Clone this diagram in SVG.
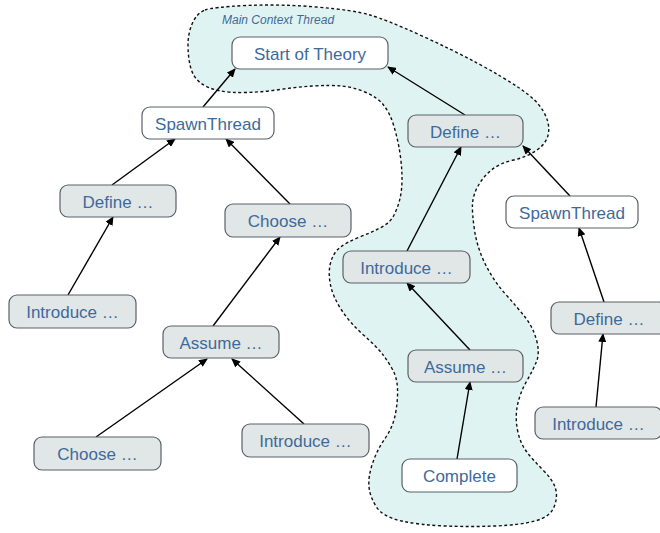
<svg xmlns="http://www.w3.org/2000/svg" width="660" height="533" viewBox="0 0 660 533">
<defs>
<style>
.blob{fill:#dff3f2;stroke:#111;stroke-width:1.4;stroke-dasharray:3 2.5}
.n rect{stroke:#5b6168;stroke-width:1.2}
.g rect{fill:#e1e6e7}
.w rect{fill:#ffffff}
.n text{font-family:"Liberation Sans",Arial,sans-serif;font-size:17px;fill:#3e6a9a;text-anchor:middle}
.lbl{font-family:"Liberation Sans",Arial,sans-serif;font-size:12px;font-style:italic;fill:#3e6a9a}
#edges line{stroke:#000;stroke-width:1.4;marker-end:url(#ah)}
</style>
<marker id="ah" markerWidth="9" markerHeight="8" refX="8" refY="4" orient="auto" markerUnits="userSpaceOnUse">
<path d="M0,0 L9,4 L0,8 Z" fill="#000"/>
</marker>
</defs>
<rect width="660" height="533" fill="#ffffff"/>
<g id="main-context-thread">
<path class="blob" d="M205,10 Q213,7 246.5,5.5 Q280,4 316.5,7 Q353,10 370,15 Q387,20 420,35 Q453,50 478,63.5 Q503,77 520,88.5 Q537,100 543.5,111.5 Q550,123 548.5,133 Q547,143 537,150 Q527,157 513.5,160 Q500,163 491.5,170 Q483,177 478,186 Q473,195 472.5,204 Q472,213 474.5,230 Q477,247 485,263.5 Q493,280 505,293.5 Q517,307 525,317 Q533,327 536.5,340 Q540,353 536.5,361.5 Q533,370 526.5,381.5 Q520,393 517.5,405 Q515,417 517.5,430 Q520,443 526.5,451.5 Q533,460 543,470 Q553,480 555.5,488.5 Q558,497 554,507 Q550,517 535,521 Q520,525 495,526 Q470,527 445,526 Q420,525 401.5,521 Q383,517 376.5,507 Q370,497 369,487 Q368,477 372.5,463.5 Q377,450 385,438.5 Q393,427 395.5,413.5 Q398,400 397.5,388.5 Q397,377 392,368.5 Q387,360 382,353.5 Q377,347 363.5,335 Q350,323 341.5,310 Q333,297 330.5,285 Q328,273 330.5,263 Q333,253 340,247.5 Q347,242 358.5,237.5 Q370,233 380,228 Q390,223 394,215 Q398,207 400,198.5 Q402,190 402,178.5 Q402,167 400,153.5 Q398,140 394,126.5 Q390,113 383.5,105 Q377,97 365,92 Q353,87 341.5,86 Q330,85 313.5,86 Q297,87 280,89.5 Q263,92 246.5,92.5 Q230,93 218.5,90.5 Q207,88 200,82.5 Q193,77 190.5,67 Q188,57 188,45 Q188,33 192.5,23 Q197,13 205,10 Z"/>
<text class="lbl" x="222" y="24">Main Context Thread</text>
</g>
<g id="edges">
<line x1="203" y1="107" x2="235" y2="69"/>
<line x1="465" y1="115" x2="388" y2="67"/>
<line x1="112" y1="185" x2="175" y2="139"/>
<line x1="290" y1="204" x2="226" y2="139"/>
<line x1="68" y1="295" x2="113" y2="217"/>
<line x1="213" y1="326" x2="280" y2="237"/>
<line x1="96" y1="437" x2="207" y2="359"/>
<line x1="304" y1="424" x2="232" y2="359"/>
<line x1="407" y1="251" x2="461" y2="147"/>
<line x1="570" y1="196" x2="523" y2="146"/>
<line x1="470" y1="350" x2="407" y2="283"/>
<line x1="604" y1="302" x2="579" y2="228"/>
<line x1="457" y1="459" x2="470" y2="382"/>
<line x1="596" y1="407" x2="603" y2="334"/>
</g>
<g id="start-of-theory" class="n w"><rect x="232" y="37" width="156" height="32" rx="8"/><text x="310" y="60">Start of Theory</text></g>
<g id="spawn-left" class="n w"><rect x="142" y="107" width="132" height="32" rx="8"/><text x="208" y="130">SpawnThread</text></g>
<g id="define-left" class="n g"><rect x="60" y="185" width="116" height="32" rx="8"/><text x="118" y="208">Define …</text></g>
<g id="choose-mid" class="n g"><rect x="225" y="204" width="126" height="33" rx="8"/><text x="288" y="227">Choose …</text></g>
<g id="introduce-left" class="n g"><rect x="9" y="295" width="127" height="33" rx="8"/><text x="72.5" y="318">Introduce …</text></g>
<g id="assume-left" class="n g"><rect x="163" y="326" width="116" height="32" rx="8"/><text x="221" y="349">Assume …</text></g>
<g id="choose-bottom" class="n g"><rect x="34" y="437" width="127" height="33" rx="8"/><text x="97.5" y="460">Choose …</text></g>
<g id="introduce-bottom" class="n g"><rect x="242" y="424" width="127" height="33" rx="8"/><text x="305.5" y="447">Introduce …</text></g>
<g id="define-main" class="n g"><rect x="408" y="115" width="115" height="32" rx="8"/><text x="465.5" y="138">Define …</text></g>
<g id="spawn-right" class="n w"><rect x="506" y="196" width="132" height="32" rx="8"/><text x="572" y="219">SpawnThread</text></g>
<g id="introduce-main" class="n g"><rect x="343" y="251" width="127" height="32" rx="8"/><text x="406.5" y="274">Introduce …</text></g>
<g id="define-right" class="n g"><rect x="551" y="302" width="116" height="32" rx="8"/><text x="609" y="325">Define …</text></g>
<g id="assume-main" class="n g"><rect x="408" y="350" width="115" height="32" rx="8"/><text x="465.5" y="373">Assume …</text></g>
<g id="introduce-right" class="n g"><rect x="535" y="407" width="127" height="32" rx="8"/><text x="598.5" y="430">Introduce …</text></g>
<g id="complete" class="n w"><rect x="402" y="459" width="115" height="33" rx="8"/><text x="459.5" y="482">Complete</text></g>
</svg>
